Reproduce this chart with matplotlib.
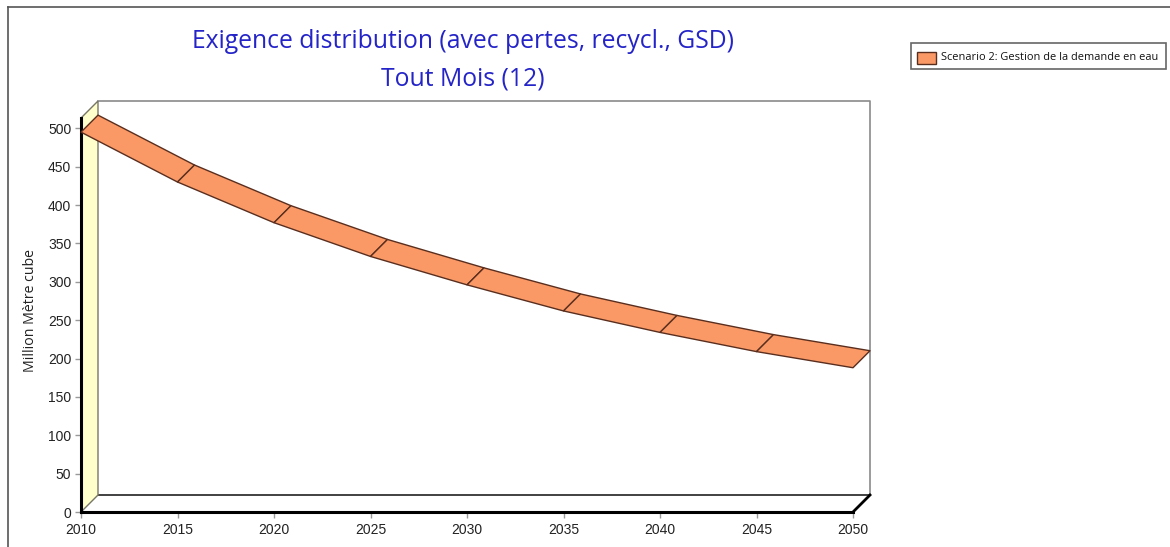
import matplotlib
matplotlib.use("Agg")
import matplotlib.pyplot as plt
from matplotlib.patches import Polygon, Rectangle
from matplotlib.lines import Line2D

# Data
years = [2010, 2015, 2020, 2025, 2030, 2035, 2040, 2045, 2050]
demand = [495, 430, 377, 333, 296, 262, 234, 209, 188]
series_name = "Scenario 2: Gestion de la demande en eau"
title_line1 = "Exigence distribution (avec pertes, recycl., GSD)"
title_line2 = "Tout Mois (12)"
y_label = "Million Mètre cube"
y_ticks = list(range(0, 501, 50))
x_ticks = list(range(2010, 2051, 5))

RIBBON = "#FA9966"
RIBBON_EDGE = "#5A2E1E"
WALL = "#FFFFCC"
TITLE_BLUE = "#2424C8"

W, H = 1170, 547
fig = plt.figure(figsize=(W / 100, H / 100), dpi=100)
fig.patch.set_facecolor("white")

# outer frame of the chart panel
fig.add_artist(Line2D([8 / W, 8 / W], [0, 1 - 7 / H], color="#555555", lw=1.2,
                      transform=fig.transFigure))
fig.add_artist(Line2D([8 / W, 1], [1 - 7 / H, 1 - 7 / H], color="#555555", lw=1.2,
                      transform=fig.transFigure))

# front plane of the 3D plot area
left_px, right_px, bottom_px, top_px = 81, 853, 512, 118
ax = fig.add_axes([left_px / W, 1 - bottom_px / H,
                   (right_px - left_px) / W, (bottom_px - top_px) / H])
xmin, xmax = 2010, 2050
ymax = (bottom_px - top_px) / 0.7674
ax.set_xlim(xmin, xmax)
ax.set_ylim(0, ymax)
ax.patch.set_alpha(0)

# depth offset (17 px right and up) expressed in data units
depth_px = 17
dx = depth_px * (xmax - xmin) / (right_px - left_px)
dy = depth_px * ymax / (bottom_px - top_px)

# back wall outline
ax.add_line(Line2D([xmin + dx, xmax + dx, xmax + dx], [ymax + dy, ymax + dy, dy],
                   color="#8A8A8A", lw=1.2, clip_on=False, zorder=1))
# floor
ax.add_patch(Polygon([(xmin, 0), (xmax, 0), (xmax + dx, dy), (xmin + dx, dy)],
                     closed=True, facecolor="white", edgecolor="none",
                     clip_on=False, zorder=1))
ax.add_line(Line2D([xmin + dx, xmax + dx], [dy, dy], color="#333333", lw=1.3,
                   clip_on=False, zorder=2))
ax.add_line(Line2D([xmax, xmax + dx], [0, dy], color="black", lw=2,
                   clip_on=False, zorder=2))
# left wall
ax.add_patch(Polygon([(xmin, 0), (xmin + dx, dy), (xmin + dx, ymax + dy), (xmin, ymax)],
                     closed=True, facecolor=WALL, edgecolor="#777766", lw=1,
                     clip_on=False, zorder=2))
ax.add_line(Line2D([xmin, xmin], [0, ymax], color="black", lw=2.2,
                   clip_on=False, zorder=3))
ax.add_line(Line2D([xmin, xmax], [0, 0], color="black", lw=2.2,
                   clip_on=False, zorder=3))

# ribbon, one face per segment
for i in range(len(years) - 1):
    x0, x1 = years[i], years[i + 1]
    v0, v1 = demand[i], demand[i + 1]
    ax.add_patch(Polygon([(x0, v0), (x1, v1), (x1 + dx, v1 + dy), (x0 + dx, v0 + dy)],
                         closed=True, facecolor=RIBBON, edgecolor=RIBBON_EDGE,
                         lw=1, joinstyle="round", clip_on=False, zorder=4))

for s in ax.spines.values():
    s.set_visible(False)
ax.set_yticks(y_ticks)
ax.set_xticks(x_ticks)
ax.tick_params(axis="both", direction="out", length=4, width=1, color="#999999",
               labelcolor="#222222", labelsize=10)
ax.tick_params(axis="y", pad=3)
ax.tick_params(axis="x", pad=4)
for lbl in ax.get_xticklabels() + ax.get_yticklabels():
    lbl.set_fontfamily("Liberation Sans")

fig.text(31 / W, 1 - 310 / H, y_label, rotation=90, ha="center", va="center",
         fontsize=10.2, family="Open Sans", color="#222222")

# titles
fig.text(463 / W, 1 - 41 / H, title_line1, ha="center", va="center",
         fontsize=17.8, family="Open Sans", color=TITLE_BLUE)
fig.text(463 / W, 1 - 79 / H, title_line2, ha="center", va="center",
         fontsize=17.8, family="Open Sans", color=TITLE_BLUE)

# legend box
fig.add_artist(Rectangle((911 / W, 1 - 69 / H), (1166 - 911) / W, 26 / H,
                         transform=fig.transFigure, facecolor="white",
                         edgecolor="#666666", lw=1.2))
fig.add_artist(Rectangle((917 / W, 1 - 64 / H), 19 / W, 12 / H,
                         transform=fig.transFigure, facecolor=RIBBON,
                         edgecolor=RIBBON_EDGE, lw=1))
fig.text(941 / W, 1 - 57 / H, series_name, ha="left", va="center",
         fontsize=7.9, family="Open Sans", color="#111111")

fig.savefig("out.png", dpi=100)
